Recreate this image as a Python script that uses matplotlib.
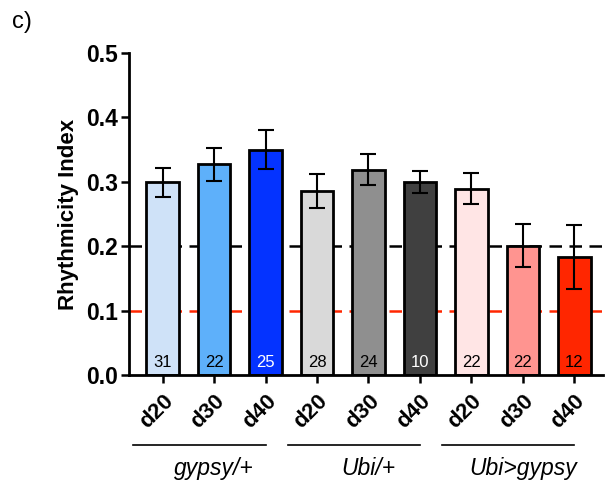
import numpy as np
import matplotlib.pyplot as plt

plt.rcParams['font.family'] = ['Liberation Sans', 'DejaVu Sans']

days = ['d20', 'd30', 'd40'] * 3
groups = ['gypsy/+', 'Ubi/+', 'Ubi>gypsy']
ri_mean = [0.299, 0.327, 0.350, 0.286, 0.319, 0.300, 0.289, 0.201, 0.183]
ri_sem = [0.022, 0.026, 0.030, 0.026, 0.024, 0.017, 0.024, 0.033, 0.050]
n_flies = [31, 22, 25, 28, 24, 10, 22, 22, 12]
colors = ['#cfe2f8', '#5eb0fa', '#0433ff', '#d9d9d9', '#8f8f8f', '#404040',
          '#ffe5e5', '#ff9490', '#ff2600']
n_colors = ['black', 'black', 'white', 'black', 'black', 'white',
            'black', 'black', 'black']

fig = plt.figure(figsize=(6.05, 4.83), dpi=100)
ax = fig.add_axes([0.213, 0.2236, 0.784, 0.6667])

x = np.arange(len(ri_mean))
ax.axhline(0.2, color='black', lw=1.8, ls=(0, (5, 3)), zorder=1)
ax.axhline(0.1, color='#ff2600', lw=1.8, ls=(0, (5, 3)), zorder=1)
ax.bar(x, ri_mean, width=0.63, color=colors, edgecolor='black', linewidth=2, zorder=2)
ax.errorbar(x, ri_mean, yerr=ri_sem, fmt='none', ecolor='black', elinewidth=1.5,
            capsize=6, capthick=1.5, zorder=3)
for i, n in enumerate(n_flies):
    ax.text(x[i], 0.019, str(n), ha='center', va='center', fontsize=12, color=n_colors[i], zorder=4)

ax.set_xlim(-0.655, 8.56)
ax.set_ylim(0, 0.5)
ax.set_yticks([0, 0.1, 0.2, 0.3, 0.4, 0.5])
ax.set_yticklabels(['0.0', '0.1', '0.2', '0.3', '0.4', '0.5'], fontsize=16.5, fontweight='bold')
ax.set_xticks(x)
ax.set_xticklabels(days, rotation=45, ha='right', rotation_mode='anchor', fontsize=16, fontweight='bold')
ax.tick_params(axis='both', width=1.8, length=6, pad=2)
ax.tick_params(axis='x', pad=5)
for s in ['top', 'right']:
    ax.spines[s].set_visible(False)
for s in ['left', 'bottom']:
    ax.spines[s].set_linewidth(2)
ax.set_ylabel('Rhythmicity Index', fontsize=16, fontweight='bold', labelpad=5)

# group brackets under the day labels
for g in range(3):
    x0, x1 = 3 * g - 0.57, 3 * g + 2.0
    ax.plot([x0, x1], [-0.108, -0.108], color='black', lw=1.2, clip_on=False)
    ax.text(3 * g + 1.0, -0.145, groups[g], ha='center', va='center', fontsize=16.5,
            style='italic')

fig.text(0.02, 0.955, 'c)', fontsize=17, ha='left', va='center')

plt.savefig('out.png', dpi=100)
